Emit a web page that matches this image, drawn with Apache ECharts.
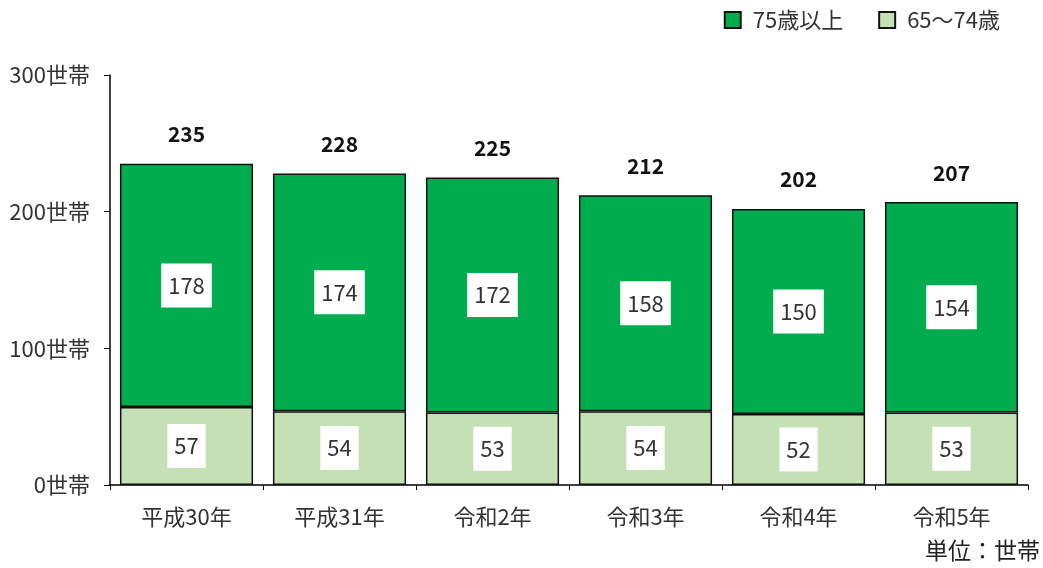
<!DOCTYPE html>
<html>
<head>
<meta charset="utf-8">
<script src="https://cdn.jsdelivr.net/npm/echarts@6/dist/echarts.min.js"></script>
<style>
  html, body { margin: 0; padding: 0; background: #fff; }
  #main { width: 1043px; height: 568px; }
</style>
</head>
<body>
<div id="main"></div>
<script>
const years = ["平成30年", "平成31年", "令和2年", "令和3年", "令和4年", "令和5年"];
const age75 = [178, 174, 172, 158, 150, 154];
const age65 = [57, 54, 53, 54, 52, 53];
const totals = [235, 228, 225, 212, 202, 207];

const font = "'Noto Sans CJK JP', 'Noto Sans', sans-serif";

const boxLabel = {
  show: true,
  position: "inside",
  backgroundColor: "#fff",
  padding: [10, 7],
  fontSize: 22,
  lineHeight: 24,
  color: "#333",
  fontFamily: font
};

const chart = echarts.init(document.getElementById("main"));
chart.setOption({
  animation: false,
  textStyle: { fontFamily: font },
  grid: { left: 110, right: 15, top: 75, bottom: 83 },
  legend: {
    data: ["75歳以上", "65〜74歳"],
    right: 38,
    top: 4,
    itemWidth: 16,
    itemHeight: 16,
    itemGap: 35,
    icon: "rect",
    textStyle: { fontSize: 22, color: "#333", fontFamily: font, padding: [0, 0, 0, 7] }
  },
  xAxis: {
    type: "category",
    data: years,
    axisLine: { lineStyle: { color: "#000", width: 1.5 } },
    axisTick: { show: true, length: 5, lineStyle: { color: "#000" } },
    axisLabel: { fontSize: 22, color: "#333", margin: 21 }
  },
  yAxis: {
    type: "value",
    min: 0,
    max: 300,
    interval: 100,
    splitLine: { show: false },
    axisLine: { show: true, lineStyle: { color: "#000", width: 1.5 } },
    axisTick: { show: true, length: 6, lineStyle: { color: "#000" } },
    axisLabel: { fontSize: 22, color: "#333", margin: 20, formatter: "{value}世帯" }
  },
  series: [
    {
      name: "65〜74歳",
      type: "bar",
      stack: "all",
      barWidth: "87%",
      data: age65,
      itemStyle: { color: "#c5e0b4", borderColor: "#111", borderWidth: 1.5 },
      label: boxLabel
    },
    {
      name: "75歳以上",
      type: "bar",
      stack: "all",
      data: age75,
      itemStyle: { color: "#00ac4e", borderColor: "#111", borderWidth: 1.5 },
      label: boxLabel
    },
    {
      name: "合計",
      type: "bar",
      stack: "all",
      data: totals.map(() => 0),
      itemStyle: { color: "transparent" },
      label: {
        show: true,
        position: "top",
        distance: 19,
        fontSize: 21,
        fontWeight: "bold",
        color: "#111",
        formatter: (p) => totals[p.dataIndex]
      }
    }
  ],
  graphic: [
    {
      type: "text",
      right: 3,
      top: 539,
      style: { text: "単位：世帯", fontSize: 23, fill: "#222", fontFamily: font }
    }
  ]
});
</script>
</body>
</html>
